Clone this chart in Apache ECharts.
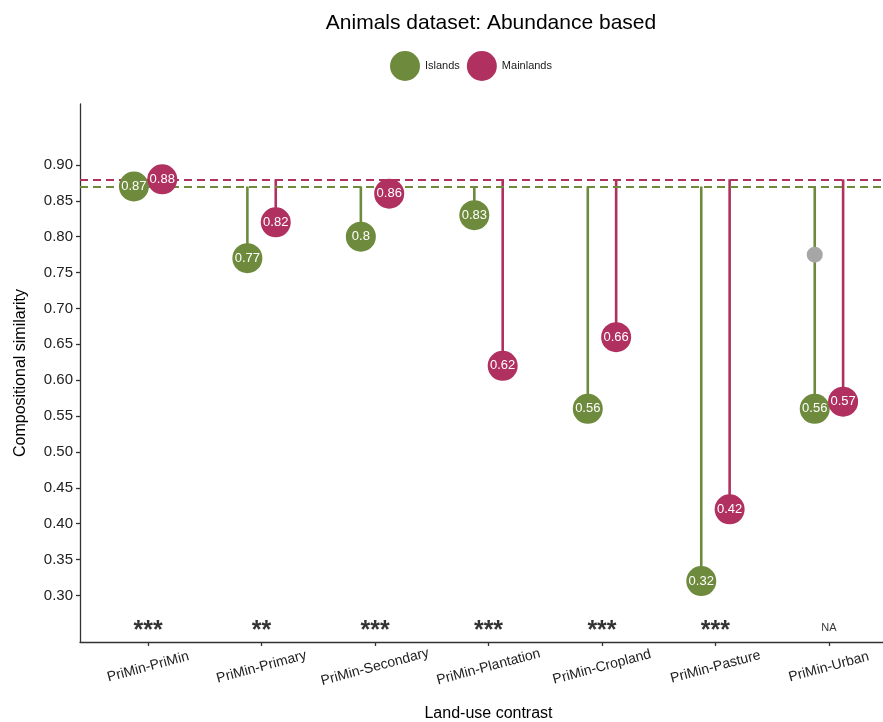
<!DOCTYPE html>
<html>
<head>
<meta charset="utf-8">
<title>Animals dataset: Abundance based</title>
<script src="https://cdn.jsdelivr.net/npm/echarts@6/dist/echarts.min.js"></script>
<style>
  html, body { margin: 0; padding: 0; background: #fff; }
  #chart { width: 883px; height: 722px; }
</style>
</head>
<body>
<div id="chart"></div>
<script>
// Land-use contrasts (x categories)
const categories = [
  'PriMin-PriMin', 'PriMin-Primary', 'PriMin-Secondary', 'PriMin-Plantation',
  'PriMin-Cropland', 'PriMin-Pasture', 'PriMin-Urban'
];
// Compositional similarity per contrast
const islands   = [0.87, 0.77, 0.80, 0.83, 0.56, 0.32, 0.56];
const mainlands = [0.88, 0.82, 0.86, 0.62, 0.66, 0.42, 0.57];
// Additional (grey) estimate shown on the Urban islands stem
const urbanGreyValue = 0.775;
// Significance of the island/mainland difference
const significance = ['***', '**', '***', '***', '***', '***', 'NA'];
// Y axis tick labels
const yTicks = [0.30, 0.35, 0.40, 0.45, 0.50, 0.55, 0.60, 0.65, 0.70, 0.75, 0.80, 0.85, 0.90];

const GREEN = '#6E8B3D';
const MAROON = '#B03060';
const GREY = '#A6A6A6';
const FONT = 'Liberation Sans, Arial, Helvetica, sans-serif';
const DODGE = 0.125;
const SIG_Y = 0.257;

// Reference (dashed) levels: the PriMin-PriMin value of each group
const islandsRef = islands[0];
const mainlandsRef = mainlands[0];

const fmt = v => String(Number(v.toFixed(2)));

function stemSeries(name, values, ref, offset, color) {
  return {
    type: 'custom',
    name: name,
    silent: true,
    z: 3,
    data: values.map((v, i) => [i + offset, v, ref]),
    renderItem: function (params, api) {
      const top = api.coord([api.value(0), api.value(2)]);
      const bot = api.coord([api.value(0), api.value(1)]);
      return {
        type: 'line',
        shape: { x1: top[0], y1: top[1], x2: bot[0], y2: bot[1] },
        style: { stroke: color, lineWidth: 2.6 }
      };
    }
  };
}

function pointSeries(name, values, offset, color, z) {
  return {
    type: 'scatter',
    name: name,
    z: z,
    symbol: 'circle',
    symbolSize: 30,
    itemStyle: { color: color, opacity: 1 },
    label: {
      show: true,
      position: 'inside',
      color: '#fff',
      fontSize: 13,
      fontFamily: FONT,
      formatter: p => fmt(p.value[1])
    },
    emphasis: { disabled: true },
    data: values.map((v, i) => [i + offset, v])
  };
}

const chart = echarts.init(document.getElementById('chart'), null, { renderer: 'canvas' });

chart.setOption({
  animation: false,
  backgroundColor: '#ffffff',
  title: {
    text: 'Animals dataset: Abundance based',
    left: 486,
    textAlign: 'center',
    top: 8,
    textStyle: { fontFamily: FONT, fontSize: 21, fontWeight: 'normal', color: '#000' }
  },
  legend: {
    data: ['Islands', 'Mainlands'],
    left: 385,
    top: 46,
    icon: 'circle',
    itemWidth: 30,
    itemHeight: 30,
    itemGap: 7,
    textStyle: { fontFamily: FONT, fontSize: 11, color: '#1a1a1a' }
  },
  grid: { left: 80, right: -14, top: 104, bottom: 80, containLabel: false, outerBoundsMode: 'none' },
  xAxis: {
    type: 'value',
    min: -0.6,
    max: 6.6,
    name: 'Land-use contrast',
    nameLocation: 'middle',
    nameGap: 64,
    nameTextStyle: { fontFamily: FONT, fontSize: 16, color: '#000' },
    axisLine: { show: true, onZero: false, lineStyle: { color: '#333', width: 1.3 } },
    axisTick: { show: true, length: 4, customValues: categories.map((c, i) => i), lineStyle: { color: '#333', width: 1.3 } },
    axisLabel: {
      customValues: categories.map((c, i) => i),
      formatter: v => categories[Math.round(v)],
      rotate: 15,
      align: 'center',
      verticalAlign: 'middle',
      margin: 25,
      fontFamily: FONT,
      fontSize: 14,
      color: '#222'
    },
    splitLine: { show: false }
  },
  yAxis: {
    type: 'value',
    min: 0.235,
    max: 0.985,
    name: 'Compositional similarity',
    nameLocation: 'middle',
    nameGap: 51,
    nameRotate: 90,
    nameTextStyle: { fontFamily: FONT, fontSize: 16, color: '#000' },
    axisLine: { show: true, onZero: false, lineStyle: { color: '#333', width: 1.3 } },
    axisTick: { show: true, length: 4, customValues: yTicks, lineStyle: { color: '#333', width: 1.3 } },
    axisLabel: {
      customValues: yTicks,
      formatter: v => v.toFixed(2),
      margin: 7,
      fontFamily: FONT,
      fontSize: 15,
      color: '#222'
    },
    splitLine: { show: false }
  },
  series: [
    // dashed reference levels
    {
      type: 'line',
      name: 'refLines',
      data: [],
      z: 2,
      silent: true,
      markLine: {
        silent: true,
        symbol: 'none',
        label: { show: false },
        data: [
          { yAxis: mainlandsRef, lineStyle: { color: MAROON, type: [8, 5], width: 2 } },
          { yAxis: islandsRef, lineStyle: { color: GREEN, type: [8, 5], width: 2 } }
        ]
      }
    },
    stemSeries('islandStems', islands, islandsRef, -DODGE, GREEN),
    stemSeries('mainlandStems', mainlands, mainlandsRef, DODGE, MAROON),
    // grey estimate on the Urban stem
    {
      type: 'scatter',
      name: 'urbanGrey',
      z: 4,
      symbol: 'circle',
      symbolSize: 16,
      itemStyle: { color: GREY, opacity: 1 },
      silent: true,
      data: [[categories.length - 1 - DODGE, urbanGreyValue]]
    },
    pointSeries('Islands', islands, -DODGE, GREEN, 5),
    pointSeries('Mainlands', mainlands, DODGE, MAROON, 6),
    // significance annotations: large stars, small NA marker
    {
      type: 'scatter',
      name: 'significance',
      z: 7,
      symbolSize: 0,
      silent: true,
      data: significance.map((s, i) => ({
        value: [i, SIG_Y],
        label: s === 'NA'
          ? { fontSize: 11, fontWeight: 'normal', offset: [0, 2] }
          : { fontSize: 25, fontWeight: 'bold', offset: [0, 5] }
      })),
      label: {
        show: true,
        position: 'inside',
        formatter: p => significance[p.dataIndex],
        fontFamily: FONT,
        color: '#000'
      }
    }
  ]
});
</script>
</body>
</html>
